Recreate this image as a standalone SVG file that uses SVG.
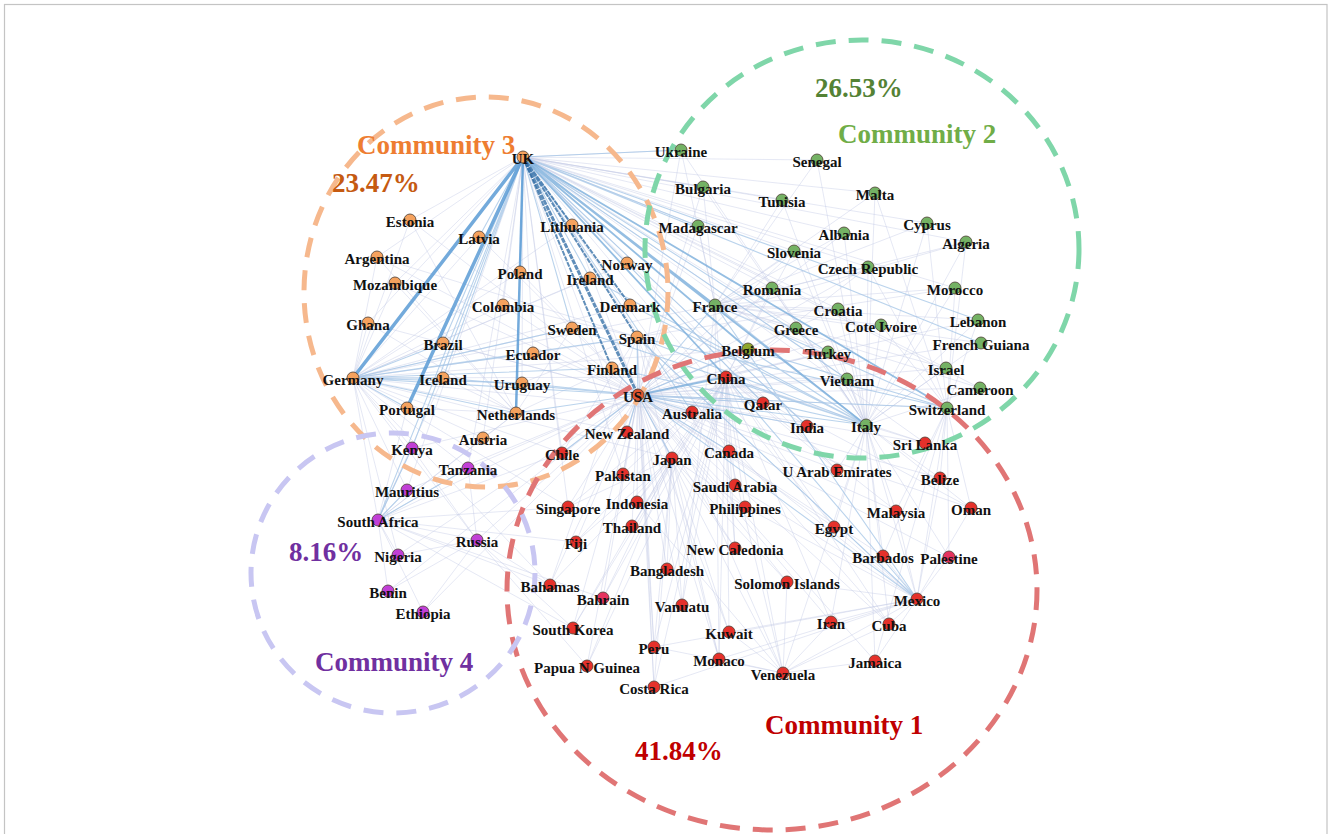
<svg xmlns="http://www.w3.org/2000/svg" width="1328" height="834" viewBox="0 0 1328 834">
<style>
.f{fill:none;stroke:#c3cbe6;stroke-width:0.8;opacity:0.55}
.b1{fill:none;stroke:#a3c4e6;stroke-width:1.1;opacity:0.75}
.b2{fill:none;stroke:#7aaedb;stroke-width:1.8;opacity:0.8}
.b3{fill:none;stroke:#5b9bd5;stroke-width:3.5;opacity:0.85}
.b4{fill:none;stroke:#2c6aa3;stroke-width:2;opacity:0.75;stroke-dasharray:5 1}
.ring{fill:none;stroke-width:5;stroke-dasharray:20 13}
.n circle{stroke:#4a3c32;stroke-width:0.8}
.c3 circle{fill:#f5a25e}
.c2 circle{fill:#74b264}
.c1 circle{fill:#e5312b}
.c4 circle{fill:#c13fd6}
.n text{font-family:"Liberation Serif","Times New Roman",serif;font-weight:bold;font-size:15px;text-anchor:middle;fill:#111}
.t{font-family:"Liberation Serif","Times New Roman",serif;font-weight:bold;font-size:27px}
</style>
<rect x="4.5" y="4.5" width="1322.5" height="840" fill="#fff" stroke="#c4c4c4" stroke-width="1.2"/>
<g id="connectors">
<path class="f" d="M523 157L410 220M523 157L377 257M523 157L395 283M523 157L368 323M523 157L503 305M523 157L533 353M523 157L522 383M523 157L483 438M523 157L681 150M523 157L703 187M523 157L698 226M523 157L817 160M523 157L782 200M523 157L875 193M523 157L927 223M523 157L844 233M523 157L794 251M523 157L868 267M523 157L772 288M523 157L838 309M523 157L796 328M523 157L847 379M523 157L763 403M523 157L729 451M523 157L672 458M523 157L623 474M523 157L562 453M523 157L568 507M523 157L735 485M523 157L837 470M523 157L834 527M523 157L925 443M523 157L946 368M523 157L980 388M523 157L955 288M523 157L966 242M523 157L627 432M523 157L807 426M523 157L468 468M523 157L407 490"/>
<path class="f" d="M638 395L672 458M638 395L729 451M638 395L562 453M638 395L623 474M638 395L568 507M638 395L637 502M638 395L745 507M638 395L632 526M638 395L576 542M638 395L735 548M638 395L667 569M638 395L550 585M638 395L603 598M638 395L682 605M638 395L573 628M638 395L729 632M638 395L654 647M638 395L719 659M638 395L587 666M638 395L654 687M638 395L783 673M638 395L831 622M638 395L889 624M638 395L875 661M638 395L883 556M638 395L834 527M638 395L896 511M638 395L837 470M638 395L940 478M638 395L925 443M638 395L971 508M638 395L949 557M638 395L763 403M638 395L807 426M638 395L627 432M638 395L796 328M638 395L772 288M638 395L838 309M638 395L847 379M638 395L828 352M638 395L681 150M638 395L703 187M638 395L698 226M638 395L477 540M638 395L398 555M638 395L423 612M638 395L388 591M638 395L468 468M638 395L412 448M638 395L378 520M638 395L407 490M638 395L377 257M638 395L503 305M638 395L533 353M638 395L443 343M638 395L368 323M638 395L395 283M638 395L410 220M638 395L572 225M638 395L479 237M638 395L520 272M638 395L794 251M638 395L868 267M638 395L844 233M638 395L881 325M638 395L980 388M638 395L946 368M638 395L981 343M638 395L978 320M638 395L947 408M638 395L787 582"/>
<path class="f" d="M353 378L410 220M353 378L479 237M353 378L572 225M353 378L377 257M353 378L395 283M353 378L368 323M353 378L503 305M353 378L520 272M353 378L590 278M353 378L572 328M353 378L533 353M353 378L483 438M353 378L412 448M353 378L468 468M353 378L407 490M353 378L378 520M353 378L477 540M353 378L398 555M353 378L562 453M353 378L627 432M353 378L726 377M353 378L692 412M353 378L672 458M353 378L630 305M353 378L627 263M353 378L715 305M353 378L748 349M353 378L550 585M353 378L568 507"/>
<path class="f" d="M726 377L623 474M726 377L568 507M726 377L637 502M726 377L632 526M726 377L672 458M726 377L573 628M726 377L667 569M726 377L576 542M726 377L682 605M726 377L729 632M726 377L831 622M726 377L654 647M726 377L783 673M726 377L889 624M726 377L834 527M726 377L896 511M726 377L745 507M726 377L735 548M726 377L735 485M726 377L837 470M726 377L763 403M726 377L807 426M726 377L925 443M726 377L971 508M726 377L587 666M726 377L719 659M726 377L654 687M726 377L603 598M726 377L772 288M726 377L796 328M726 377L828 352M726 377L868 267M726 377L794 251M726 377L847 379"/>
<path class="f" d="M866 425L875 193M866 425L927 223M866 425L844 233M866 425L966 242M866 425L794 251M866 425L868 267M866 425L772 288M866 425L955 288M866 425L838 309M866 425L881 325M866 425L978 320M866 425L981 343M866 425L946 368M866 425L980 388M866 425L817 160M866 425L782 200M866 425L834 527M866 425L831 622M866 425L875 661M866 425L889 624M866 425L783 673M866 425L917 599M866 425L883 556M866 425L949 557M866 425L971 508M866 425L940 478M866 425L896 511M866 425L837 470M866 425L925 443M866 425L796 328M866 425L828 352M866 425L847 379M866 425L703 187M866 425L681 150"/>
<path class="f" d="M715 305L817 160M715 305L782 200M715 305L955 288M715 305L966 242M715 305L881 325M715 305L980 388M715 305L978 320M715 305L981 343M715 305L698 226M715 305L703 187M715 305L772 288M715 305L796 328M715 305L719 659M715 305L735 548M715 305L682 605M715 305L681 150M715 305L794 251M715 305L868 267M715 305L844 233M715 305L838 309M715 305L875 193M715 305L927 223M715 305L946 368M715 305L828 352"/>
<path class="f" d="M947 408L927 223M947 408L966 242M947 408L868 267M947 408L917 599M947 408L949 557M947 408L971 508M947 408L940 478M947 408L875 661M947 408L955 288M947 408L978 320M947 408L875 193M947 408L881 325M947 408L883 556M947 408L896 511"/>
<path class="f" d="M917 599L889 624M917 599L875 661M917 599L783 673M917 599L654 647M917 599L654 687M917 599L831 622M917 599L883 556M917 599L949 557M917 599L834 527M917 599L896 511M917 599L940 478M917 599L971 508M917 599L729 451M917 599L745 507M917 599L735 485M917 599L729 632M917 599L719 659M917 599L787 582"/>
<path class="f" d="M672 458L573 628M672 458L587 666M672 458L576 542M672 458L682 605M672 458L667 569M672 458L719 659M672 458L654 647M672 458L654 687M672 458L729 632M672 458L550 585M672 458L603 598M672 458L568 507M672 458L637 502M672 458L632 526M672 458L745 507M672 458L735 548M672 458L787 582"/>
<path class="f" d="M378 520L412 448M378 520L468 468M378 520L407 490M378 520L398 555M378 520L388 591M378 520L423 612M378 520L477 540M378 520L550 585M378 520L603 598M378 520L573 628M378 520L562 453M378 520L483 438M378 520L407 408M378 520L443 378M378 520L516 413M378 520L576 542M378 520L568 507"/>
<path class="f" d="M477 540L423 612M477 540L398 555M477 540L388 591M477 540L573 628M477 540L587 666M477 540L550 585M477 540L468 468M477 540L412 448"/>
<path class="f" d="M637 337L377 257M637 337L503 305M637 337L533 353M637 337L522 383M637 337L917 599M637 337L654 647M637 337L783 673M637 337L889 624M637 337L654 687M637 337L955 288M637 337L562 453M637 337L719 659M637 337L550 585M637 337L966 242"/>
<path class="f" d="M783 673L729 451M783 673L637 502M783 673L729 632M783 673L719 659M783 673L654 647M783 673L889 624M783 673L875 661M783 673L831 622M783 673L787 582"/>
<path class="f" d="M516 413L368 323M516 413L395 283M516 413L377 257M516 413L410 220M516 413L443 378M516 413L407 408M516 413L483 438M516 413L572 328M516 413L612 368"/>
<path class="b1" d="M523 157L572 225M523 157L479 237M523 157L520 272M523 157L590 278M523 157L627 263M523 157L572 328M523 157L443 343M523 157L443 378M523 157L378 520M523 157L412 448M523 157L692 412M523 157L807 426M523 157L847 379M523 157L828 352M523 157L681 150M523 157L698 226M523 157L763 403M523 157L978 320M523 157L981 343"/>
<path class="b1" d="M353 378L443 378M353 378L522 383M353 378L516 413M353 378L443 343M353 378L637 337M353 378L612 368M353 378L407 408M353 378L638 395M353 378L533 353M353 378L572 328"/>
<path class="b1" d="M638 395L866 425M638 395L917 599M638 395L748 349M638 395L715 305M638 395L692 412M638 395L729 451M638 395L672 458M638 395L627 432M638 395L807 426M638 395L763 403M638 395L637 337M638 395L612 368M638 395L516 413M638 395L522 383M638 395L443 378M638 395L562 453M638 395L947 408"/>
<path class="b1" d="M866 425L726 377M866 425L748 349M866 425L715 305M866 425L637 337M866 425L630 305M866 425L590 278M866 425L572 328M866 425L612 368M917 599L637 337M917 599L715 305M917 599L726 377M378 520L412 448M378 520L407 490M378 520L468 468M947 408L715 305M947 408L748 349M947 408L637 337"/>
<path class="b2" d="M523 157L715 305M523 157L748 349M523 157L726 377M523 157L866 425M523 157L947 408M638 395L726 377"/>
<path class="b3" d="M523 157L353 378M523 157L407 408"/>
<path class="b3" style="stroke-width:2.5" d="M523 157L516 413"/>
<path class="b4" style="stroke-width:3" d="M523 157L638 395"/>
<path class="b4" d="M523 157L630 305M523 157L637 337M523 157L612 368"/>
</g>
<g id="rings">
<ellipse class="ring" cx="486" cy="292" rx="182" ry="195" stroke="#f6b88d"/>
<ellipse class="ring" cx="862" cy="249" rx="217" ry="209" stroke="#7fd6a9"/>
<ellipse class="ring" cx="772" cy="590" rx="265" ry="240" stroke="#e07575"/>
<ellipse class="ring" cx="393" cy="573" rx="142" ry="140" stroke="#c8c6f2"/>
</g>
<g id="titles">
<text class="t" x="357" y="154" fill="#ee7d31">Community 3</text>
<text class="t" x="332" y="192" fill="#c55a11">23.47%</text>
<text class="t" x="815" y="97" fill="#548235">26.53%</text>
<text class="t" x="838" y="143" fill="#70ad47">Community 2</text>
<text class="t" x="289" y="561" fill="#7030a0">8.16%</text>
<text class="t" x="315" y="671" fill="#7030a0">Community 4</text>
<text class="t" x="765" y="734" fill="#c00000">Community 1</text>
<text class="t" x="635" y="760" fill="#c00000">41.84%</text>
</g>
<g id="nodes">
<g id="n-uk" class="n c3"><circle cx="523" cy="157" r="6"/><text x="523" y="164">UK</text></g>
<g id="n-estonia" class="n c3"><circle cx="410" cy="220" r="6"/><text x="410" y="227">Estonia</text></g>
<g id="n-latvia" class="n c3"><circle cx="479" cy="237" r="6"/><text x="479" y="244">Latvia</text></g>
<g id="n-lithuania" class="n c3"><circle cx="572" cy="225" r="6"/><text x="572" y="232">Lithuania</text></g>
<g id="n-argentina" class="n c3"><circle cx="377" cy="257" r="6"/><text x="377" y="264">Argentina</text></g>
<g id="n-mozambique" class="n c3"><circle cx="395" cy="283" r="6"/><text x="395" y="290">Mozambique</text></g>
<g id="n-poland" class="n c3"><circle cx="520" cy="272" r="6"/><text x="520" y="279">Poland</text></g>
<g id="n-ireland" class="n c3"><circle cx="590" cy="278" r="6"/><text x="590" y="285">Ireland</text></g>
<g id="n-norway" class="n c3"><circle cx="627" cy="263" r="6"/><text x="627" y="270">Norway</text></g>
<g id="n-colombia" class="n c3"><circle cx="503" cy="305" r="6"/><text x="503" y="312">Colombia</text></g>
<g id="n-denmark" class="n c3"><circle cx="630" cy="305" r="6"/><text x="630" y="312">Denmark</text></g>
<g id="n-ghana" class="n c3"><circle cx="368" cy="323" r="6"/><text x="368" y="330">Ghana</text></g>
<g id="n-sweden" class="n c3"><circle cx="572" cy="328" r="6"/><text x="572" y="335">Sweden</text></g>
<g id="n-spain" class="n c3"><circle cx="637" cy="337" r="6"/><text x="637" y="344">Spain</text></g>
<g id="n-brazil" class="n c3"><circle cx="443" cy="343" r="6"/><text x="443" y="350">Brazil</text></g>
<g id="n-ecuador" class="n c3"><circle cx="533" cy="353" r="6"/><text x="533" y="360">Ecuador</text></g>
<g id="n-finland" class="n c3"><circle cx="612" cy="368" r="6"/><text x="612" y="375">Finland</text></g>
<g id="n-germany" class="n c3"><circle cx="353" cy="378" r="6"/><text x="353" y="385">Germany</text></g>
<g id="n-iceland" class="n c3"><circle cx="443" cy="378" r="6"/><text x="443" y="385">Iceland</text></g>
<g id="n-uruguay" class="n c3"><circle cx="522" cy="383" r="6"/><text x="522" y="390">Uruguay</text></g>
<g id="n-usa" class="n c3"><circle cx="638" cy="395" r="6" style="fill:#df552f"/><text x="638" y="402">USA</text></g>
<g id="n-portugal" class="n c3"><circle cx="407" cy="408" r="6"/><text x="407" y="415">Portugal</text></g>
<g id="n-netherlands" class="n c3"><circle cx="516" cy="413" r="6"/><text x="516" y="420">Netherlands</text></g>
<g id="n-austria" class="n c3"><circle cx="483" cy="438" r="6"/><text x="483" y="445">Austria</text></g>
<g id="n-kenya" class="n c4"><circle cx="412" cy="448" r="6"/><text x="412" y="455">Kenya</text></g>
<g id="n-tanzania" class="n c4"><circle cx="468" cy="468" r="6"/><text x="468" y="475">Tanzania</text></g>
<g id="n-mauritius" class="n c4"><circle cx="407" cy="490" r="6"/><text x="407" y="497">Mauritius</text></g>
<g id="n-southafrica" class="n c4"><circle cx="378" cy="520" r="6"/><text x="378" y="527">South Africa</text></g>
<g id="n-russia" class="n c4"><circle cx="477" cy="540" r="6"/><text x="477" y="547">Russia</text></g>
<g id="n-nigeria" class="n c4"><circle cx="398" cy="555" r="6"/><text x="398" y="562">Nigeria</text></g>
<g id="n-benin" class="n c4"><circle cx="388" cy="591" r="6"/><text x="388" y="598">Benin</text></g>
<g id="n-ethiopia" class="n c4"><circle cx="423" cy="612" r="6"/><text x="423" y="619">Ethiopia</text></g>
<g id="n-ukraine" class="n c2"><circle cx="681" cy="150" r="6"/><text x="681" y="157">Ukraine</text></g>
<g id="n-senegal" class="n c2"><circle cx="817" cy="160" r="6"/><text x="817" y="167">Senegal</text></g>
<g id="n-bulgaria" class="n c2"><circle cx="703" cy="187" r="6"/><text x="703" y="194">Bulgaria</text></g>
<g id="n-tunisia" class="n c2"><circle cx="782" cy="200" r="6"/><text x="782" y="207">Tunisia</text></g>
<g id="n-malta" class="n c2"><circle cx="875" cy="193" r="6"/><text x="875" y="200">Malta</text></g>
<g id="n-madagascar" class="n c2"><circle cx="698" cy="226" r="6"/><text x="698" y="233">Madagascar</text></g>
<g id="n-cyprus" class="n c2"><circle cx="927" cy="223" r="6"/><text x="927" y="230">Cyprus</text></g>
<g id="n-albania" class="n c2"><circle cx="844" cy="233" r="6"/><text x="844" y="240">Albania</text></g>
<g id="n-algeria" class="n c2"><circle cx="966" cy="242" r="6"/><text x="966" y="249">Algeria</text></g>
<g id="n-slovenia" class="n c2"><circle cx="794" cy="251" r="6"/><text x="794" y="258">Slovenia</text></g>
<g id="n-czech" class="n c2"><circle cx="868" cy="267" r="6"/><text x="868" y="274">Czech Republic</text></g>
<g id="n-romania" class="n c2"><circle cx="772" cy="288" r="6"/><text x="772" y="295">Romania</text></g>
<g id="n-morocco" class="n c2"><circle cx="955" cy="288" r="6"/><text x="955" y="295">Morocco</text></g>
<g id="n-france" class="n c2"><circle cx="715" cy="305" r="6"/><text x="715" y="312">France</text></g>
<g id="n-croatia" class="n c2"><circle cx="838" cy="309" r="6"/><text x="838" y="316">Croatia</text></g>
<g id="n-coteivoire" class="n c2"><circle cx="881" cy="325" r="6"/><text x="881" y="332">Cote Ivoire</text></g>
<g id="n-greece" class="n c2"><circle cx="796" cy="328" r="6"/><text x="796" y="335">Greece</text></g>
<g id="n-lebanon" class="n c2"><circle cx="978" cy="320" r="6"/><text x="978" y="327">Lebanon</text></g>
<g id="n-frenchguiana" class="n c2"><circle cx="981" cy="343" r="6"/><text x="981" y="350">French Guiana</text></g>
<g id="n-belgium" class="n c2"><circle cx="748" cy="349" r="6" style="fill:#8fa72e"/><text x="748" y="356">Belgium</text></g>
<g id="n-turkey" class="n c2"><circle cx="828" cy="352" r="6"/><text x="828" y="359">Turkey</text></g>
<g id="n-israel" class="n c2"><circle cx="946" cy="368" r="6"/><text x="946" y="375">Israel</text></g>
<g id="n-vietnam" class="n c2"><circle cx="847" cy="379" r="6"/><text x="847" y="386">Vietnam</text></g>
<g id="n-cameroon" class="n c2"><circle cx="980" cy="388" r="6"/><text x="980" y="395">Cameroon</text></g>
<g id="n-switzerland" class="n c2"><circle cx="947" cy="408" r="6"/><text x="947" y="415">Switzerland</text></g>
<g id="n-italy" class="n c2"><circle cx="866" cy="425" r="6"/><text x="866" y="432">Italy</text></g>
<g id="n-china" class="n c1"><circle cx="726" cy="377" r="6"/><text x="726" y="384">China</text></g>
<g id="n-qatar" class="n c1"><circle cx="763" cy="403" r="6"/><text x="763" y="410">Qatar</text></g>
<g id="n-australia" class="n c1"><circle cx="692" cy="412" r="6"/><text x="692" y="419">Australia</text></g>
<g id="n-india" class="n c1"><circle cx="807" cy="426" r="6"/><text x="807" y="433">India</text></g>
<g id="n-newzealand" class="n c1"><circle cx="627" cy="432" r="6"/><text x="627" y="439">New Zealand</text></g>
<g id="n-srilanka" class="n c1"><circle cx="925" cy="443" r="6"/><text x="925" y="450">Sri Lanka</text></g>
<g id="n-canada" class="n c1"><circle cx="729" cy="451" r="6"/><text x="729" y="458">Canada</text></g>
<g id="n-chile" class="n c1"><circle cx="562" cy="453" r="6"/><text x="562" y="460">Chile</text></g>
<g id="n-japan" class="n c1"><circle cx="672" cy="458" r="6"/><text x="672" y="465">Japan</text></g>
<g id="n-uae" class="n c1"><circle cx="837" cy="470" r="6"/><text x="837" y="477">U Arab Emirates</text></g>
<g id="n-pakistan" class="n c1"><circle cx="623" cy="474" r="6"/><text x="623" y="481">Pakistan</text></g>
<g id="n-belize" class="n c1"><circle cx="940" cy="478" r="6"/><text x="940" y="485">Belize</text></g>
<g id="n-saudiarabia" class="n c1"><circle cx="735" cy="485" r="6"/><text x="735" y="492">Saudi Arabia</text></g>
<g id="n-singapore" class="n c1"><circle cx="568" cy="507" r="6"/><text x="568" y="514">Singapore</text></g>
<g id="n-indonesia" class="n c1"><circle cx="637" cy="502" r="6"/><text x="637" y="509">Indonesia</text></g>
<g id="n-philippines" class="n c1"><circle cx="745" cy="507" r="6"/><text x="745" y="514">Philippines</text></g>
<g id="n-oman" class="n c1"><circle cx="971" cy="508" r="6"/><text x="971" y="515">Oman</text></g>
<g id="n-malaysia" class="n c1"><circle cx="896" cy="511" r="6"/><text x="896" y="518">Malaysia</text></g>
<g id="n-thailand" class="n c1"><circle cx="632" cy="526" r="6"/><text x="632" y="533">Thailand</text></g>
<g id="n-egypt" class="n c1"><circle cx="834" cy="527" r="6"/><text x="834" y="534">Egypt</text></g>
<g id="n-fiji" class="n c1"><circle cx="576" cy="542" r="6"/><text x="576" y="549">Fiji</text></g>
<g id="n-newcaledonia" class="n c1"><circle cx="735" cy="548" r="6"/><text x="735" y="555">New Caledonia</text></g>
<g id="n-barbados" class="n c1"><circle cx="883" cy="556" r="6"/><text x="883" y="563">Barbados</text></g>
<g id="n-palestine" class="n c1"><circle cx="949" cy="557" r="6" style="fill:#e5335f"/><text x="949" y="564">Palestine</text></g>
<g id="n-bangladesh" class="n c1"><circle cx="667" cy="569" r="6"/><text x="667" y="576">Bangladesh</text></g>
<g id="n-solomon" class="n c1"><circle cx="787" cy="582" r="6"/><text x="787" y="589">Solomon Islands</text></g>
<g id="n-bahamas" class="n c1"><circle cx="550" cy="585" r="6"/><text x="550" y="592">Bahamas</text></g>
<g id="n-bahrain" class="n c1"><circle cx="603" cy="598" r="6" style="fill:#e5335f"/><text x="603" y="605">Bahrain</text></g>
<g id="n-vanuatu" class="n c1"><circle cx="682" cy="605" r="6"/><text x="682" y="612">Vanuatu</text></g>
<g id="n-mexico" class="n c1"><circle cx="917" cy="599" r="6"/><text x="917" y="606">Mexico</text></g>
<g id="n-southkorea" class="n c1"><circle cx="573" cy="628" r="6"/><text x="573" y="635">South Korea</text></g>
<g id="n-iran" class="n c1"><circle cx="831" cy="622" r="6"/><text x="831" y="629">Iran</text></g>
<g id="n-kuwait" class="n c1"><circle cx="729" cy="632" r="6"/><text x="729" y="639">Kuwait</text></g>
<g id="n-cuba" class="n c1"><circle cx="889" cy="624" r="6"/><text x="889" y="631">Cuba</text></g>
<g id="n-peru" class="n c1"><circle cx="654" cy="647" r="6"/><text x="654" y="654">Peru</text></g>
<g id="n-monaco" class="n c1"><circle cx="719" cy="659" r="6"/><text x="719" y="666">Monaco</text></g>
<g id="n-jamaica" class="n c1"><circle cx="875" cy="661" r="6"/><text x="875" y="668">Jamaica</text></g>
<g id="n-papua" class="n c1"><circle cx="587" cy="666" r="6"/><text x="587" y="673">Papua N Guinea</text></g>
<g id="n-venezuela" class="n c1"><circle cx="783" cy="673" r="6"/><text x="783" y="680">Venezuela</text></g>
<g id="n-costarica" class="n c1"><circle cx="654" cy="687" r="6"/><text x="654" y="694">Costa Rica</text></g>
</g>
</svg>
